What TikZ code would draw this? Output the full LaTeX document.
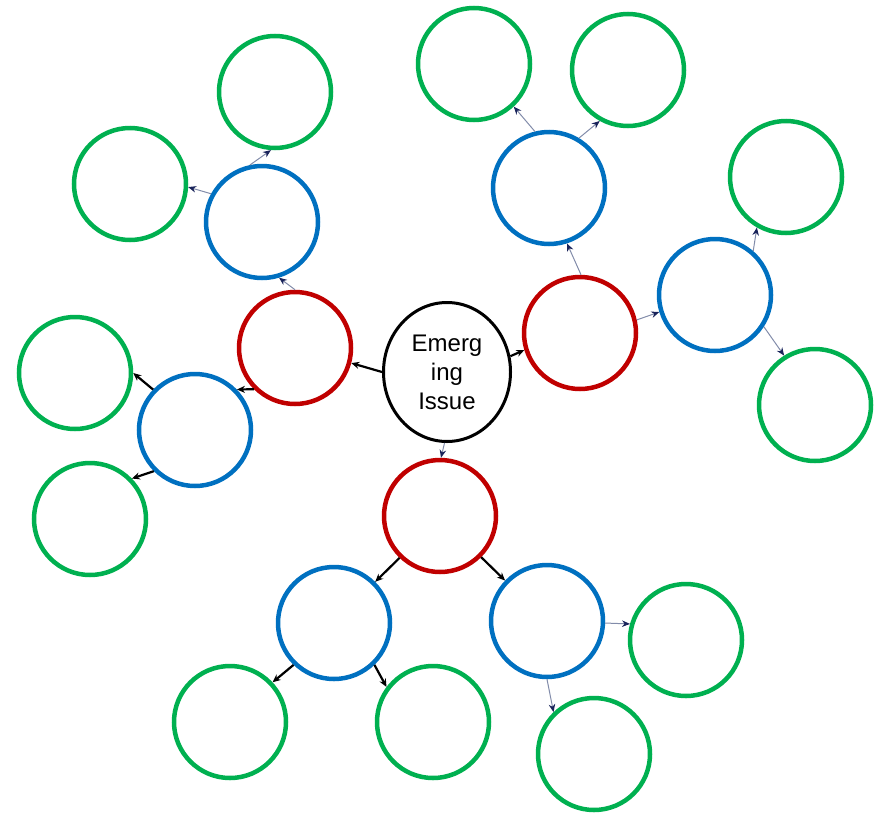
\documentclass[tikz,border=0pt]{standalone}
\usepackage{fontspec}
\setmainfont{Liberation Sans}
\usetikzlibrary{arrows.meta,shapes.geometric}
\definecolor{cred}{RGB}{192,0,0}
\definecolor{cblue}{RGB}{0,112,192}
\definecolor{cgreen}{RGB}{0,176,80}
\definecolor{thinline}{RGB}{130,140,170}
\definecolor{tipnavy}{RGB}{25,35,90}
\begin{document}
\begin{tikzpicture}[x=1pt,y=-1pt,
  bub/.style={circle,draw,line width=4.5pt,minimum size=112pt,inner sep=0pt},
  rbub/.style={bub,draw=cred},
  bbub/.style={bub,draw=cblue},
  gbub/.style={bub,draw=cgreen},
  thickarr/.style={line width=2.2pt,-{Stealth[length=8pt,width=7pt]},black},
  thinarr/.style={line width=1pt,draw=thinline,-{Stealth[length=8pt,width=6.5pt,color=tipnavy]}}]
\useasboundingbox (0,0) rectangle (883,814);
% center
\node[ellipse,draw,line width=3pt,minimum width=127pt,minimum height=139pt,inner sep=0pt,
  align=center,font=\fontsize{24}{29}\selectfont] (e) at (447,372) {Emerg\\ing\\Issue};
% red
\node[rbub] (rl) at (295,348) {};
\node[rbub] (rr) at (580,333) {};
\node[rbub] (rb) at (440,516) {};
% blue
\node[bbub] (bul) at (262,222) {};
\node[bbub] (bl) at (195,430) {};
\node[bbub] (bt) at (549,188) {};
\node[bbub] (br) at (715,295) {};
\node[bbub] (bbl) at (334,623) {};
\node[bbub] (bbr) at (547,621) {};
% green
\node[gbub] (g1) at (275,92) {};
\node[gbub] (g2) at (130,184) {};
\node[gbub] (g3) at (75,373) {};
\node[gbub] (g4) at (90,519) {};
\node[gbub] (g5) at (474,64) {};
\node[gbub] (g6) at (628,70) {};
\node[gbub] (g7) at (786,177) {};
\node[gbub] (g8) at (815,405) {};
\node[gbub] (g9) at (686,640) {};
\node[gbub] (g10) at (594,754) {};
\node[gbub] (g11) at (433,722) {};
\node[gbub] (g12) at (230,722) {};
% connectors
\draw[thickarr] (e.180) -- (rl.-15);
\draw[thickarr] (e.14) -- (rr.-163);
\draw[thinarr] (e.-92) -- (rb.89);
\draw[thinarr] (rl.90) -- (bul.-73);
\draw[thickarr] (rl.225) -- (bl.44);
\draw[thickarr] (bl.136) -- (g3.0);
\draw[thickarr] (bl.-135) -- (g4.44);
\draw[thinarr] (bul.151) -- (g2.-3);
\draw[thinarr] (bul.102) -- (g1.-94);
\draw[thinarr] (rr.89) -- (bt.-72);
\draw[thinarr] (rr.13) -- (br.-163);
\draw[thinarr] (bt.104) -- (g5.-47);
\draw[thinarr] (bt.59) -- (g6.-119);
\draw[thinarr] (br.49) -- (g7.-120);
\draw[thinarr] (br.-33) -- (g8.122);
\draw[thickarr] (rb.-134) -- (bbl.45);
\draw[thickarr] (rb.-45) -- (bbr.136);
\draw[thickarr] (bbl.-134) -- (g12.43);
\draw[thickarr] (bbl.-46) -- (g11.143);
\draw[thinarr] (bbr.-2) -- (g9.164);
\draw[thinarr] (bbr.-90) -- (g10.134);
\end{tikzpicture}
\end{document}
